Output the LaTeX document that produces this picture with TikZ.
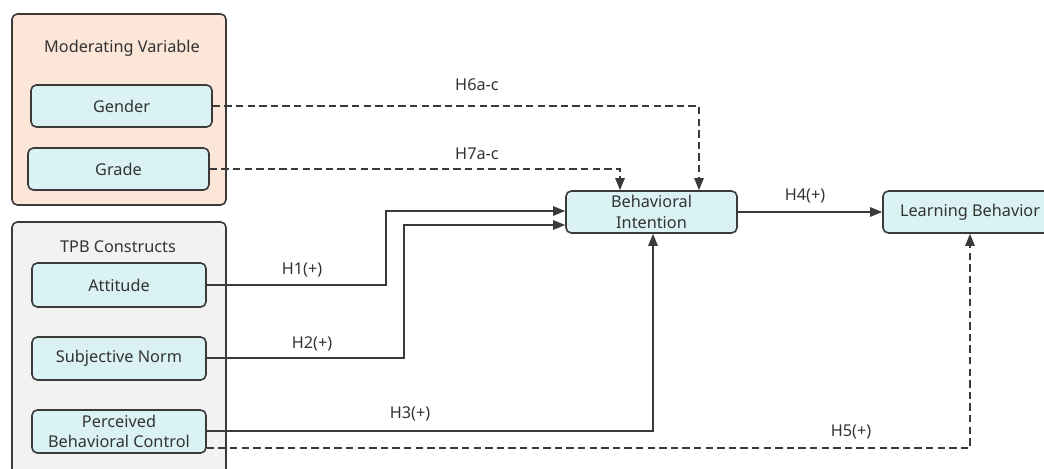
\documentclass[tikz,border=0pt]{standalone}
\usepackage{fontspec}
\setmainfont{Noto Sans}
\usetikzlibrary{arrows.meta}
\definecolor{edgec}{HTML}{3A3A3A}
\definecolor{txtc}{HTML}{333333}
\definecolor{peach}{HTML}{FBE6D8}
\definecolor{grayf}{HTML}{F2F2F2}
\definecolor{cyanf}{HTML}{DAF2F3}
\tikzset{
  outerbox/.style={draw=edgec, line width=1.2pt, rounded corners=4pt, inner sep=0pt},
  varbox/.style={draw=edgec, line width=1.2pt, rounded corners=4pt, fill=cyanf, inner sep=0pt, align=center, text=txtc, font=\fontsize{12.2}{15.5}\selectfont},
  lbl/.style={text=txtc, inner sep=0pt, font=\fontsize{12.2}{14}\selectfont},
  link/.style={draw=edgec, line width=1.2pt, -{Triangle[length=9pt,width=7pt]}},
  dlink/.style={link, dash pattern=on 5.5pt off 3.2pt},
}
\begin{document}
\begin{tikzpicture}[x=0.75pt,y=-0.75pt]
\useasboundingbox (0,0) rectangle (1044,468);
\clip (0,0) rectangle (1044,468);
% group boxes
\node[outerbox, fill=peach, minimum width=214*0.75pt, minimum height=191*0.75pt] (modbox) at (119,109.5) {};
\node[outerbox, fill=grayf, minimum width=214*0.75pt, minimum height=260*0.75pt] (tpbbox) at (119,352) {};
\node[lbl] (modlbl) at (122,48) {Moderating Variable};
\node[lbl] (tpblbl) at (118,247) {TPB Constructs};
% variables
\node[varbox, minimum width=181*0.75pt, minimum height=42*0.75pt] (gender) at (121.5,106) {Gender};
\node[varbox, minimum width=181*0.75pt, minimum height=42*0.75pt] (grade) at (118.5,169) {Grade};
\node[varbox, minimum width=174*0.75pt, minimum height=44*0.75pt] (att) at (119,285) {Attitude};
\node[varbox, minimum width=174*0.75pt, minimum height=43*0.75pt] (sn) at (119,358.5) {Subjective Norm};
\node[varbox, minimum width=174*0.75pt, minimum height=43*0.75pt, font=\fontsize{12.2}{15}\selectfont] (pbc) at (119,431.5) {Perceived\\Behavioral Control};
\node[varbox, minimum width=171*0.75pt, minimum height=42*0.75pt] (bi) at (651.5,212) {Behavioral\\Intention};
\node[varbox, minimum width=174*0.75pt, minimum height=42*0.75pt] (lb) at (970,212) {Learning Behavior};
% connectors
\coordinate (g1) at (699,106);
\coordinate (r1) at (620,169);
\draw[dlink] (gender.east) -- (g1) -- (g1 |- bi.north);
\draw[dlink] (grade.east |- r1) -- (r1) -- (r1 |- bi.north);
\coordinate (a1) at (386,285);
\coordinate (a2) at (386,211);
\draw[link] (att.east) -- (a1) -- (a2) -- (a2 -| bi.west);
\coordinate (s1) at (404,358);
\coordinate (s2) at (404,225);
\draw[link] (sn.east |- s1) -- (s1) -- (s2) -- (s2 -| bi.west);
\coordinate (p1) at (653,431);
\draw[link] (pbc.east |- p1) -- (p1) -- (p1 |- bi.south);
\coordinate (q1) at (970,448);
\draw[dlink] (pbc.east |- q1) -- (q1) -- (q1 |- lb.south);
\draw[link] (bi.east) -- (lb.west);
% labels
\node[lbl] (h6) at (477,85) {H6a-c};
\node[lbl] (h7) at (477,154) {H7a-c};
\node[lbl] (h1) at (302,270) {H1(+)};
\node[lbl] (h2) at (312,344) {H2(+)};
\node[lbl] (h3) at (410,414) {H3(+)};
\node[lbl] (h5) at (851,432) {H5(+)};
\node[lbl] (h4) at (805,196) {H4(+)};
\end{tikzpicture}
\end{document}
